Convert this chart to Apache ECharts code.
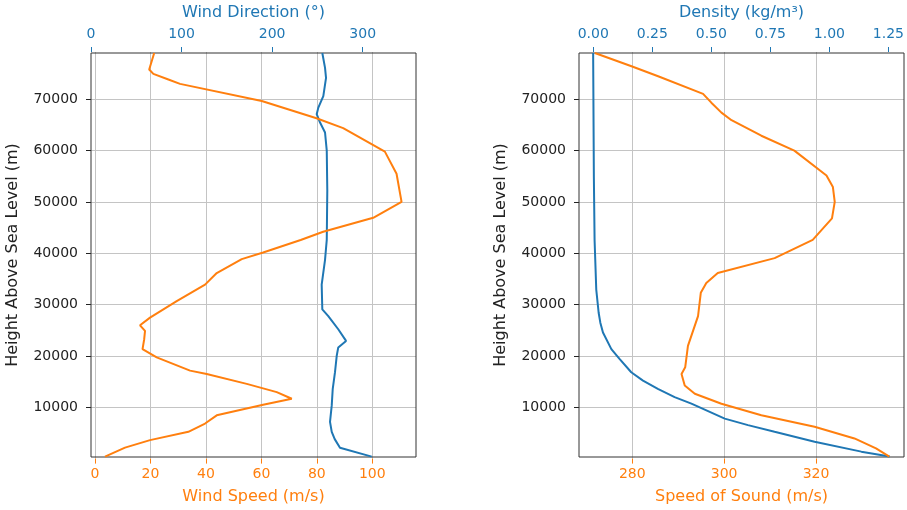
<!DOCTYPE html>
<html>
<head>
<meta charset="utf-8">
<script src="https://cdn.jsdelivr.net/npm/echarts@6/dist/echarts.min.js"></script>
<style>
  html, body { margin: 0; padding: 0; background: #fff; }
  #main { width: 907px; height: 510px; }
</style>
</head>
<body>
<div id="main"></div>
<script>
// heights (m) and values
var windHeights = [80, 1830, 3310, 4940, 6560, 8170, 10250, 11420, 12720, 14340, 16280, 16930, 19530, 21150, 23090, 24710, 25820, 27320, 30540, 33790, 36070, 38790, 40080, 42550, 44160, 46890, 50000, 55530, 59860, 64480, 66420, 69790, 73150, 74010, 75100, 75960, 79200];
var windSpeed = [3.6, 10.8, 19.8, 33.6, 39.6, 43.8, 60.5, 70.8, 65.4, 54.6, 40.2, 34.2, 22.2, 17.1, 17.7, 18.0, 16.2, 19.8, 29.4, 39.6, 43.8, 52.8, 60.5, 74.0, 82.1, 100.1, 110.3, 108.5, 104.3, 89.3, 79.7, 60.0, 30.6, 26.4, 21.0, 19.5, 21.3];

var dirHeights = [80, 1830, 3500, 4940, 6890, 10120, 13370, 16620, 19840, 21480, 22760, 25040, 27630, 28930, 33800, 38660, 42550, 52280, 60060, 63620, 65570, 67200, 68490, 70760, 74320, 76270, 79200];
var windDirection = [309.8, 274.8, 269.0, 265.7, 263.8, 265.7, 266.8, 269.3, 271.2, 272.9, 281.5, 272.9, 261.9, 255.3, 254.6, 258.3, 260.2, 260.8, 260.2, 258.3, 252.8, 249.1, 250.9, 256.4, 259.4, 258.3, 255.3];

var soundHeights = [80, 1690, 3640, 5920, 8170, 10450, 12400, 14010, 16290, 17590, 21790, 27630, 32180, 34130, 36070, 38990, 42550, 46770, 50000, 52920, 55190, 60060, 62980, 66030, 67510, 69460, 71200, 74650, 76600, 79200];
var soundSpeed = [336.1, 333.2, 328.5, 319.8, 308.2, 299.5, 293.7, 291.5, 290.8, 291.6, 292.2, 294.4, 295.0, 296.2, 298.7, 311.1, 319.4, 323.6, 324.2, 323.8, 322.4, 315.4, 308.2, 301.7, 299.5, 297.3, 295.5, 285.7, 279.9, 271.9];

var densHeights = [80, 1050, 2990, 4940, 6245, 7530, 10450, 11750, 13370, 14980, 16610, 19230, 21150, 24400, 26330, 28280, 32820, 42550, 55000, 79200];
var density = [1.238, 1.12, 0.925, 0.758, 0.647, 0.550, 0.411, 0.341, 0.271, 0.209, 0.160, 0.111, 0.077, 0.042, 0.031, 0.024, 0.014, 0.007, 0.004, 0.001];

// tick labels
var heightTicks = [10000, 20000, 30000, 40000, 50000, 60000, 70000];
var speedTicks = [0, 20, 40, 60, 80, 100];
var directionTicks = [0, 100, 200, 300];
var soundTicks = [280, 300, 320];
var densityTicks = ['0.00', '0.25', '0.50', '0.75', '1.00', '1.25'];

var BLUE = '#1f77b4', ORANGE = '#ff7f0e', INK = '#222', GRID = '#c4c4c4';
var FONT = 'DejaVu Sans';

function pairs(xs, hs) {
    var out = [];
    for (var i = 0; i < xs.length; i++) out.push([xs[i], hs[i]]);
    return out;
}

function num(a) { return a.map(Number); }

// the data axes carry the real extents but draw only the name;
// separate "display" grids line up with whole ticks and draw labels / grid lines
function dataX(grid, pos, name, color, min, max) {
    return {
        type: 'value', gridIndex: grid, position: pos, min: min, max: max,
        name: name, nameLocation: 'middle', nameGap: 32,
        nameTextStyle: { color: color, fontFamily: FONT, fontSize: 16 },
        axisLine: { show: false, onZero: false }, axisTick: { show: false },
        axisLabel: { show: false }, splitLine: { show: false }
    };
}

function dataY(grid) {
    return {
        type: 'value', gridIndex: grid, min: 0, max: 79200,
        name: 'Height Above Sea Level (m)', nameLocation: 'middle', nameGap: 70,
        nameTextStyle: { color: INK, fontFamily: FONT, fontSize: 16 },
        axisLine: { show: false, onZero: false }, axisTick: { show: false },
        axisLabel: { show: false }, splitLine: { show: false }
    };
}

function tickX(grid, pos, color, ticks, lines, labels) {
    return {
        type: 'value', gridIndex: grid, position: pos,
        min: ticks[0], max: ticks[ticks.length - 1], interval: ticks[1] - ticks[0],
        axisLine: { show: false, onZero: false },
        axisTick: { show: true, length: 5, lineStyle: { color: color, width: 1 } },
        axisLabel: { color: color, fontFamily: FONT, fontSize: 14, margin: pos === 'top' ? 11 : 9,
            showMinLabel: true, showMaxLabel: true,
            formatter: function (v) {
                if (!labels) return String(Math.round(v));
                var i = Math.round((v - ticks[0]) / (ticks[1] - ticks[0]));
                return labels[i];
            } },
        splitLine: { show: lines, lineStyle: { color: GRID, width: 1 } }
    };
}

function tickY(grid) {
    return {
        type: 'value', gridIndex: grid,
        min: heightTicks[0], max: heightTicks[heightTicks.length - 1], interval: heightTicks[1] - heightTicks[0],
        axisLine: { show: false, onZero: false },
        axisTick: { show: true, length: 5, lineStyle: { color: INK, width: 1 } },
        axisLabel: { color: INK, fontFamily: FONT, fontSize: 14, margin: 13,
            formatter: function (v) { return String(Math.round(v)); } },
        splitLine: { show: true, lineStyle: { color: GRID, width: 1 } }
    };
}

function hidden(grid) {
    return { type: 'value', gridIndex: grid, min: 0, max: 1, show: false, axisLine: { onZero: false } };
}

var myChart = echarts.init(document.getElementById('main'));
var option = {
    animation: false,
    backgroundColor: '#fff',
    grid: [
        { left: 91, right: 491, top: 52, bottom: 51.4, show: true, borderColor: '#333', borderWidth: 1, z: 3 },
        { left: 95, right: 534.7, top: 52, bottom: 51.4 },
        { left: 91, right: 544.3, top: 52, bottom: 51.4 },
        { left: 91, right: 491, top: 99.3, bottom: 102.7 },
        { left: 579, right: 3, top: 52, bottom: 51.4, show: true, borderColor: '#333', borderWidth: 1, z: 3 },
        { left: 632.3, right: 91, top: 52, bottom: 51.4 },
        { left: 593.3, right: 14.7, top: 52, bottom: 51.4 },
        { left: 579, right: 3, top: 99.3, bottom: 102.7 }
    ],
    xAxis: [
        dataX(0, 'bottom', 'Wind Speed (m/s)', ORANGE, -1.44, 115.5),
        dataX(0, 'top', 'Wind Direction (°)', BLUE, 0, 358.7),
        tickX(1, 'bottom', ORANGE, speedTicks, true),
        tickX(2, 'top', BLUE, directionTicks, false),
        hidden(3),
        dataX(4, 'bottom', 'Speed of Sound (m/s)', ORANGE, 268.45, 339.3),
        dataX(4, 'top', 'Density (kg/m³)', BLUE, -0.058, 1.298),
        tickX(5, 'bottom', ORANGE, soundTicks, true),
        tickX(6, 'top', BLUE, num(densityTicks), false, densityTicks),
        hidden(7)
    ],
    yAxis: [
        dataY(0), hidden(1), hidden(2), tickY(3),
        dataY(4), hidden(5), hidden(6), tickY(7)
    ],
    series: [
        { type: 'line', xAxisIndex: 1, yAxisIndex: 0, data: pairs(windDirection, dirHeights),
          showSymbol: false, z: 4, lineStyle: { color: BLUE, width: 2 }, itemStyle: { color: BLUE } },
        { type: 'line', xAxisIndex: 0, yAxisIndex: 0, data: pairs(windSpeed, windHeights),
          showSymbol: false, z: 4, lineStyle: { color: ORANGE, width: 2 }, itemStyle: { color: ORANGE } },
        { type: 'line', xAxisIndex: 6, yAxisIndex: 4, data: pairs(density, densHeights),
          showSymbol: false, z: 4, lineStyle: { color: BLUE, width: 2 }, itemStyle: { color: BLUE } },
        { type: 'line', xAxisIndex: 5, yAxisIndex: 4, data: pairs(soundSpeed, soundHeights),
          showSymbol: false, z: 4, lineStyle: { color: ORANGE, width: 2 }, itemStyle: { color: ORANGE } }
    ]
};
myChart.setOption(option);
</script>
</body>
</html>
